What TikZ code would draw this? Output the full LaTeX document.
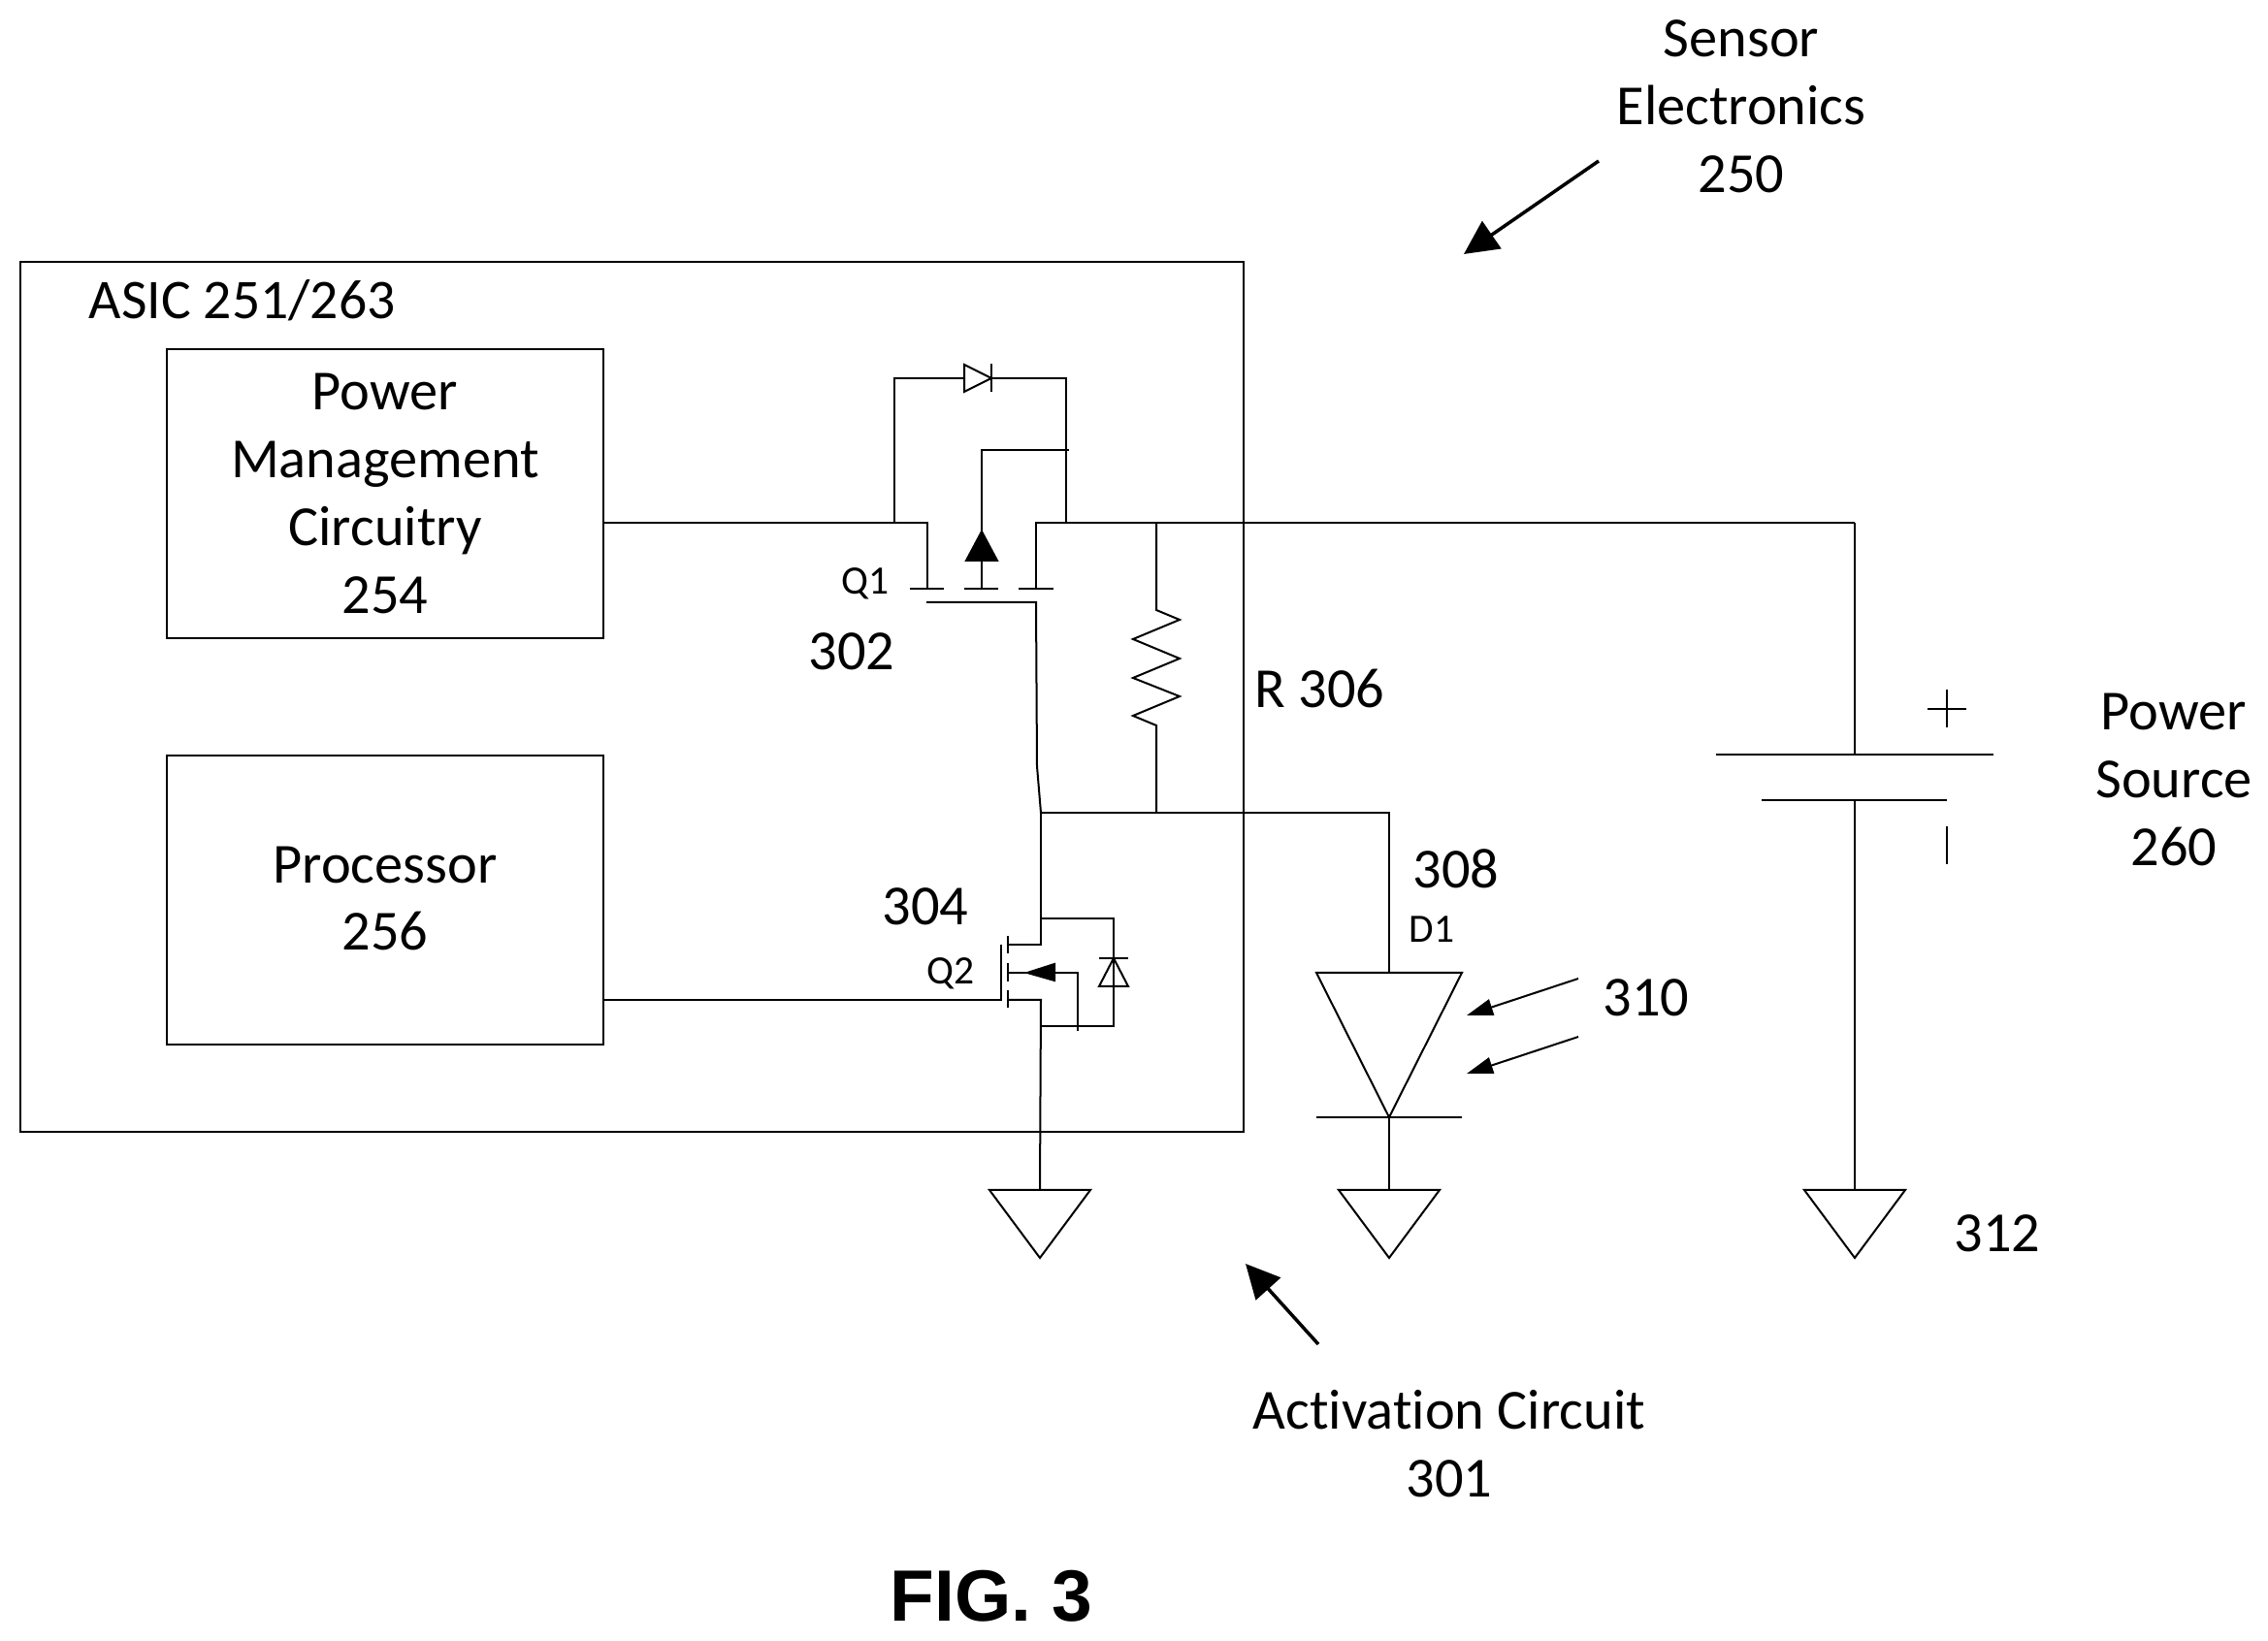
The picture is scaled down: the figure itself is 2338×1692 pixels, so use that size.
\documentclass[tikz,border=0pt]{standalone}
\usepackage{fontspec}
\setmainfont[Ligatures = NoCommon]{Carlito}
\newfontfamily\figfont{Liberation Sans}
\usetikzlibrary{arrows.meta}

\def\railY{539}
\def\gndTop{1227}
\def\gndApex{70}
\def\gndHalf{52}

\tikzset{
    wire/.style = {line width = 0.02cm, line join = miter},
    label/.style = {inner sep = 0pt, align = center, font = \fontsize{16.6}{19.9}\selectfont},
    tinylabel/.style = {inner sep = 0pt, font = \fontsize{11.8}{14}\selectfont},
    blockbox/.style = {draw, wire, outer sep = 0pt, inner sep = 0pt, align = center,
        minimum width = 4.5cm, font = \fontsize{16.6}{19.9}\selectfont},
    lightarrow/.style = {wire, -{Triangle[length = 0.27cm, width = 0.17cm]}},
    callout/.style = {line width = 0.035cm, -{Triangle[length = 0.35cm, width = 0.34cm]}},
}

\begin{document}
\begin{tikzpicture}[x = 0.01cm, y = -0.01cm]
            \useasboundingbox (0,0) rectangle (2338,1692);
            %% blocks
            \node [draw, wire, outer sep = 0pt, minimum width = 12.61cm, minimum height = 8.97cm]
            (asic) at (651.5,718.5) {};
            \node [blockbox, minimum height = 2.98cm] (pmBox) at (397,509) {
                Power\\Management\\Circuitry\\254
            };
            \node [blockbox, minimum height = 2.98cm] (procBox) at (397,928) {};
            \node [label] (procLabel) at (397,926.5) {Processor\\256};
            \node [label, anchor = west, font = \fontsize{16.4}{19.9}\selectfont]
            (asicLabel) at (91,310) {ASIC 251/263};
            %% junctions
            \draw
            (956,\railY) coordinate (q1Src)
            (1068,\railY) coordinate (q1Drn)
            (922,\railY) coordinate (bypassL)
            (1099,\railY) coordinate (bypassR)
            (1192,\railY) coordinate (resTop)
            (1073,838) coordinate (midNode)
            (1192,838) coordinate (resBot)
            (1432,838) coordinate (ledTurn)
            (1912,\railY) coordinate (railEnd)
            (1032,1031) coordinate (q2Gate)
            (1073,947) coordinate (q2Top)
            (1073,1058) coordinate (q2Bot)
            ;
            %% grounds
            \foreach \gndName/\gndX in {gndQ/1072, gndD/1432, gndB/1912} {
                \draw [wire]
                (\gndX,\gndTop) coordinate (\gndName)
                -- ++(\gndHalf,0)
                -- ++(-\gndHalf,\gndApex)
                -- ++(-\gndHalf,-\gndApex)
                -- cycle
                ;
            }
            %% Q1
            \draw [wire] (pmBox.east |- q1Src) -- (q1Src) -- ++(0,68) coordinate (q1SrcEnd);
            \draw [wire] (q1SrcEnd) ++(-18,0) -- ++(35,0);
            \draw [wire] (1012,607) coordinate (q1Bulk) ++(-18,0) -- ++(35,0);
            \draw [wire] (q1Drn) ++(0,68) ++(-18,0) -- ++(36,0);
            \draw [wire] (q1Bulk) -- ++(0,-29);
            \draw [wire, fill = black] (1012,548) coordinate (q1Tip) -- (996,578) -- (1028,578) -- cycle;
            \draw [wire] (q1Tip) -- ++(0,-84) -- (1102,464);
            \draw [wire] (railEnd) -- (q1Drn) -- ++(0,68);
            \draw [wire] (955,621) -- (1068,621) -- (1069,790) -- (midNode);
            %% diode across Q1
            \draw [wire] (bypassL) -- ++(0,-149) -- (994,390);
            \draw [wire] (bypassR) -- ++(0,-149) -- (1022,390);
            \draw [wire] (994,376) -- (1022,390) -- (994,404) -- cycle;
            \draw [wire] (1022,375) -- (1022,404);
            \node [tinylabel] (q1Label) at (892,602) {Q1};
            \node [label] (q1Ref) at (878,672) {302};
            %% resistor
            \draw [wire] (resTop) -- ++(0,90)
            -- (1216,639) -- (1168,659) -- (1216,679) -- (1168,699)
            -- (1216,718) -- (1168,738) -- (1192,748)
            -- (resBot)
            ;
            \node [label, anchor = west] (resLabel) at (1293,710) {R 306};
            %% Q2
            \draw [wire] (midNode) -- (ledTurn) -- (1432,1003);
            \draw [wire] (procBox.east |- q2Gate) -- (q2Gate) -- ++(0,-57);
            \draw [wire] (1039,965) -- ++(0,18);
            \draw [wire] (1039,993) -- ++(0,19);
            \draw [wire] (1039,1021) -- ++(0,18);
            \draw [wire] (midNode) -- (1073,974) -- (1039,974);
            \draw [wire] (1039,1031) -- (1073,1031) -- (gndQ);
            \draw [wire] (1039,1003) -- (1059,1003);
            \draw [wire, fill = black] (1059,1003) -- (1087,994) -- (1087,1011) -- cycle;
            \draw [wire] (1087,1003) -- (1111,1003) -- (1111,1063);
            %% diode across Q2
            \draw [wire] (q2Top) -- (1148,947) -- (1148,1058) -- (q2Bot);
            \draw [wire] (1148,988) -- (1133,1017) -- (1163,1017) -- cycle;
            \draw [wire] (1133,988) -- (1163,988);
            \node [label] (q2Ref) at (954,935) {304};
            \node [tinylabel] (q2Label) at (980,1004) {Q2};
            %% photodiode
            \draw [wire] (1357,1003) -- (1507,1003) -- (1432,1152) -- cycle;
            \draw [wire] (1357,1152) -- (1507,1152);
            \draw [wire] (1432,1152) -- (gndD);
            \draw
            (1627,1009) coordinate (lightOneA)
            (1512,1047) coordinate (lightOneB)
            (1627,1069) coordinate (lightTwoA)
            (1512,1107) coordinate (lightTwoB)
            ;
            \draw [lightarrow] (lightOneA) -- (lightOneB);
            \draw [lightarrow] (lightTwoA) -- (lightTwoB);
            \node [label] (ledRef) at (1501,896) {308};
            \node [tinylabel] (ledLabel) at (1476,958) {D1};
            \node [label] (lightRef) at (1697,1029) {310};
            %% battery
            \draw [wire] (railEnd) -- (1912,778);
            \draw [wire] (1769,778) -- (2055,778);
            \draw [wire] (1816,825) -- (2007,825);
            \draw [wire] (1912,825) -- (gndB);
            \draw [wire] (1987,731) -- (2027,731);
            \draw [wire] (2007,711) -- (2007,750);
            \draw [wire] (2007,852) -- (2007,891);
            \node [label] (batLabel) at (2241,804) {Power\\Source\\260};
            \node [label] (gndRef) at (2059,1272) {312};
            %% callouts
            \draw
            (1648,166) coordinate (sensorA)
            (1509,262) coordinate (sensorB)
            (1359,1386) coordinate (circuitA)
            (1284,1303) coordinate (circuitB)
            ;
            \draw [callout] (sensorA) -- (sensorB);
            \draw [callout] (circuitA) -- (circuitB);
            \node [label] (sensorLabel) at (1795,110) {Sensor\\Electronics\\250};
            \node [label] (circuitLabel) at (1494,1489) {Activation Circuit\\301};
            \node [inner sep = 0pt, font = \figfont\bfseries\fontsize{21.3}{26}\selectfont]
            (figLabel) at (1022,1646) {FIG. 3};
\end{tikzpicture}
\end{document}
